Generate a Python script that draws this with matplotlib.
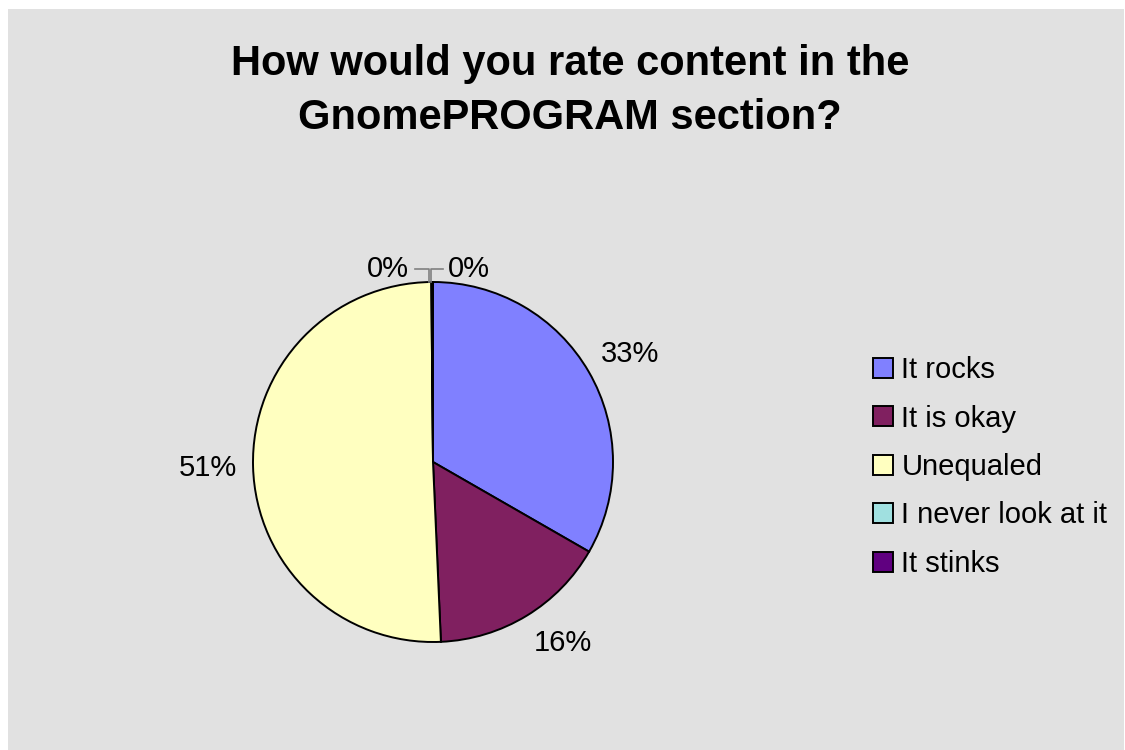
import numpy as np
import matplotlib
matplotlib.use('agg')
import matplotlib.pyplot as plt
from matplotlib.patches import Patch, Rectangle

plt.rcParams['font.family'] = ['Liberation Sans', 'DejaVu Sans']

# survey answers, share of responses in percent
answers = ["It rocks", "It is okay", "Unequaled", "I never look at it", "It stinks"]
shares = [33.3, 16.0, 50.55, 0.1, 0.05]
colors = ["#8080FF", "#802060", "#FFFFC0", "#A0E0E0", "#600080"]

title = "How would you rate content in the\nGnomePROGRAM section?"

W, H = 1125, 750
fig = plt.figure(figsize=(W / 100, H / 100), dpi=100)
fig.patch.set_facecolor("white")
# grey chart area with a thin white margin at left/top
fig.patches.append(Rectangle((8 / W, 0), 1 - 9 / W, 1 - 9 / H, transform=fig.transFigure,
                             facecolor="#E1E1E1", edgecolor="none", zorder=-10))

fig.text(570 / W, 1 - 91 / H, title, ha="center", va="center", fontsize=30,
         fontweight="bold", linespacing=1.42)

# pie: centre (433, 462) px, radius 180 px
cx, cy, r = 433, 462, 180
ax = fig.add_axes([(cx - r) / W, (H - cy - r) / H, 2 * r / W, 2 * r / H])
ax.patch.set_visible(False)
wedges, texts, autotexts = ax.pie(
    shares, colors=colors, startangle=90, counterclock=False,
    autopct=lambda p: "%d%%" % round(p), pctdistance=1.25,
    wedgeprops=dict(edgecolor="black", linewidth=1.4),
    textprops=dict(fontsize=21))
ax.set_xlim(-1, 1)
ax.set_ylim(-1, 1)
ax.set_aspect("equal")
ax.axis("off")
for w in wedges:
    w.set_clip_on(False)

# label nudges (Excel places these a bit differently)
autotexts[0].set_position(((630 - cx) / r, (cy - 354) / r))
autotexts[1].set_position(((563 - cx) / r, (cy - 643) / r))

# the two tiny slices get leader lines
ly = (cy - 269) / r
autotexts[3].set_position(((388 - cx) / r, (cy - 269) / r))
autotexts[4].set_position(((469 - cx) / r, (cy - 269) / r))
ax.plot([(415 - cx) / r, (429 - cx) / r, (429 - cx) / r], [ly, ly, 1.0],
        color="#808080", lw=1.2, clip_on=False)
ax.plot([(443 - cx) / r, (431 - cx) / r, (431 - cx) / r], [ly, ly, 1.0],
        color="#808080", lw=1.2, clip_on=False)

handles = [Patch(facecolor=c, edgecolor="black", linewidth=1.4) for c in colors]
fig.legend(handles, answers, loc="center left", bbox_to_anchor=(861 / W, 1 - 467 / H),
           frameon=False, fontsize=21, handlelength=0.68, handleheight=0.68,
           handletextpad=0.3, labelspacing=0.7, borderaxespad=0)

fig.savefig("out.png", dpi=100, facecolor=fig.get_facecolor())
